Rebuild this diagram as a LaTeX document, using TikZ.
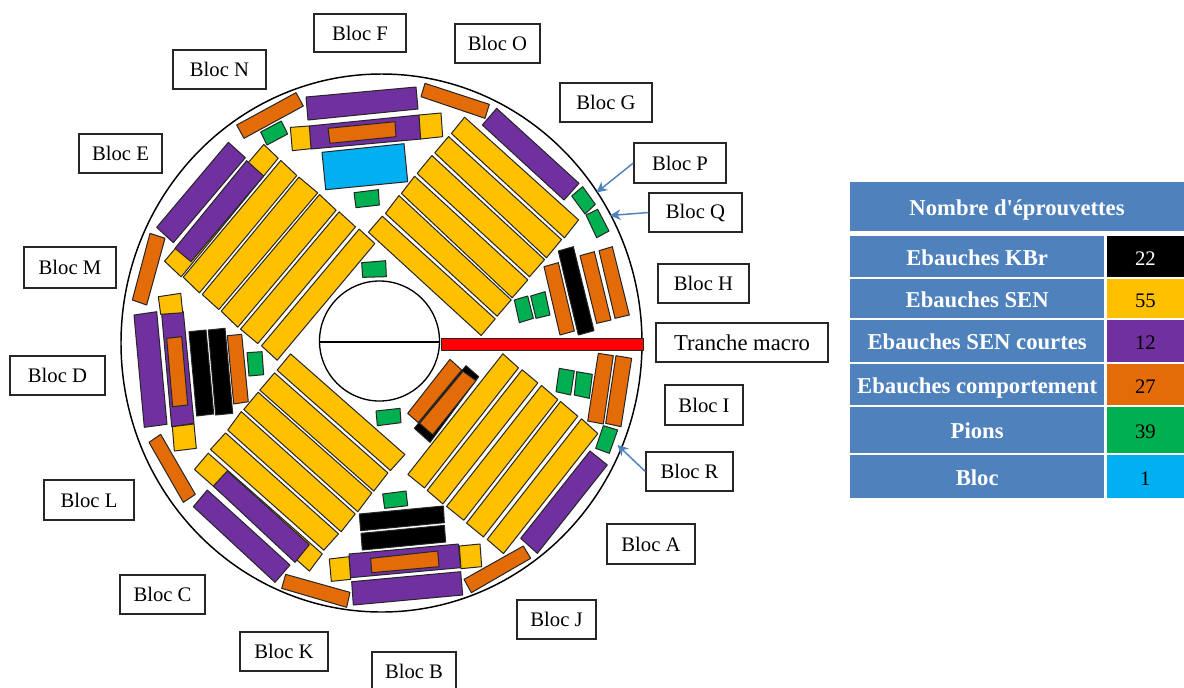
\documentclass[tikz,border=0pt]{standalone}
\usepackage{fontspec}
\setmainfont{Liberation Serif}
\usetikzlibrary{arrows.meta,calc}
\definecolor{cyel}{HTML}{FFC000}
\definecolor{cpur}{HTML}{7030A0}
\definecolor{cora}{HTML}{E36C09}
\definecolor{cgre}{HTML}{00B050}
\definecolor{cblu}{HTML}{00B0F0}
\definecolor{chead}{HTML}{4F81BD}
\tikzset{
 piece/.style={draw=black!85,line width=0.75pt,line join=round},
 yel/.style={piece,fill=cyel},
 pur/.style={piece,fill=cpur},
 ora/.style={piece,fill=cora},
 gre/.style={piece,fill=cgre},
 blk/.style={piece,fill=black},
 blu/.style={piece,fill=cblu},
 zo/.style 2 args={shift={(#1,#2)},x=0.25pt,y=-0.25pt},
 labbox/.style={draw=black!85,fill=white,line width=1pt,inner sep=0pt,font=\fontsize{15.5}{18}\selectfont},
 leader/.style={draw=chead,line width=1.1pt,-{Stealth[length=8pt,width=8pt]}},
 hcell/.style={fill=chead,text=white,inner sep=0pt,text height=13pt,text depth=0pt,font=\fontsize{17}{20}\selectfont\bfseries},
 vcell/.style={inner sep=0pt,text height=13pt,text depth=0pt,font=\fontsize{15.5}{18}\selectfont}
}
\newcommand{\lab}[6]{\node[labbox,minimum width={(#4-#2)*0.75pt},minimum height={(#5-#3)*0.75pt}] (#1) at ({(#2+#4)/2},{(#3+#5)/2}) {#6};}
\newcommand{\cell}[7]{\node[#6,minimum width={(#4-#2)*0.75pt},minimum height={(#5-#3)*0.75pt}] (#1) at ({(#2+#4)/2},{(#3+#5)/2}) {#7};}
% a yellow strip: corners A B (short end), C D; narrowed across its width
\newcommand{\st}[4]{\draw[yel] ($#1!.03!#2$)--($#2!.03!#1$)--($#3!.03!#4$)--($#4!.03!#3$)--cycle;}
\begin{document}
\begin{tikzpicture}[x=0.75pt,y=-0.75pt]
\useasboundingbox (0,0) rectangle (1184,687);
% body
\draw[line width=1.1pt,fill=white] (381.5,343) ellipse [x radius=260.5,y radius=269];
\draw[line width=1pt] (379.5,341) circle [radius=60];
\coordinate (hl) at (319.5,342);
\coordinate (hr) at (440,342);
\draw[line width=1pt] (hl) -- (hr);
\draw[piece,fill=red] (441,338) rectangle (643,350);

% ---------- NW
\begin{scope}[zo={120}{70}]
\draw[ora] (528,68)--(550,108)--(372,205)--(350,165)--cycle;
\draw[gre] (484,153)--(503,192)--(441,225)--(422,186)--cycle;
\st{(430,222)}{(476,266)}{(185,622)}{(132,572)}
\draw[pur] (380,272)--(431,318)--(213,575)--(165,535)--cycle;
\draw[pur] (325,217)--(376,263)--(160,518)--(110,472)--cycle;
\st{(481,270)}{(532,318)}{(240,670)}{(188,620)}
\st{(535,320)}{(595,370)}{(298,720)}{(245,672)}
\st{(597,372)}{(650,422)}{(355,773)}{(302,722)}
\st{(656,424)}{(708,472)}{(415,822)}{(360,776)}
\st{(716,476)}{(766,522)}{(473,872)}{(423,826)}
\draw[ora] (90,490)--(135,505)--(80,705)--(37,690)--cycle;
\draw[gre] (725,578)--(797,572)--(799,620)--(728,622)--cycle;
\draw[gre] (702,368)--(775,359)--(778,405)--(708,413)--cycle;
\end{scope}

% ---------- N group (px)
\draw[pur] (306,97)--(416,87)--(418,109)--(308,120)--cycle;
\draw[pur] (309,126)--(419,115)--(421,139)--(311,149)--cycle;
\begin{scope}[zo={120}{70}]
\draw[yel] (511,172)--(568,168)--(573,236)--(517,242)--cycle;
\end{scope}
\begin{scope}[zo={380}{70}]
\draw[yel] (117,135)--(183,129)--(188,200)--(122,207)--cycle;
\end{scope}
\draw[ora] (328,128.3)--(395,121.7)--(396,136.7)--(330,143.3)--cycle;
\draw[blu] (322,152.3)--(404,143.7)--(407.7,181.7)--(325.7,189.7)--cycle;

% ---------- NE
\begin{scope}[zo={380}{70}]
\st{(213,192)}{(255,140)}{(597,448)}{(552,505)}
\st{(163,250)}{(207,198)}{(546,507)}{(498,565)}
\st{(110,312)}{(157,255)}{(495,567)}{(447,622)}
\st{(63,372)}{(105,317)}{(445,628)}{(395,685)}
\st{(15,432)}{(58,375)}{(395,688)}{(350,740)}
\st{(-36,488)}{(8,437)}{(347,745)}{(302,798)}
\draw[pur] (350,115)--(597,340)--(552,390)--(307,165)--cycle;
\draw[ora] (135,40)--(328,103)--(315,145)--(123,80)--cycle;
\draw[gre] (608,350)--(646,403)--(615,432)--(575,378)--cycle;
\draw[gre] (653,418)--(687,483)--(650,503)--(618,435)--cycle;
\draw[blk] (580,530)--(642,782)--(595,795)--(535,543)--cycle;
\draw[ora] (535,578)--(583,783)--(540,795)--(492,590)--cycle;
\draw[ora] (643,545)--(693,750)--(650,760)--(600,557)--cycle;
\draw[ora] (697,530)--(748,735)--(705,745)--(657,542)--cycle;
\draw[gre] (443,678)--(460,745)--(418,758)--(403,690)--cycle;
\draw[gre] (495,665)--(510,735)--(468,745)--(452,678)--cycle;
\end{scope}

% ---------- W group (px)
\draw[pur] (134,315)--(156.7,311.7)--(167,424.3)--(144.3,427.3)--cycle;
\draw[pur] (161.7,314.3)--(183.3,311.7)--(194,423.3)--(171.7,426.7)--cycle;
\draw[yel] (158.3,296.7)--(180.7,293.3)--(182.7,312.7)--(160.7,314.3)--cycle;
\draw[ora] (166.7,338.3)--(181.7,336.7)--(187.7,405)--(172.7,406.7)--cycle;
\draw[blk] (189,331.7)--(206,330)--(213.7,414)--(196.7,416)--cycle;
\draw[blk] (208.3,330)--(225,328.3)--(232.7,413.3)--(215.7,415)--cycle;
\draw[ora] (227.3,335.7)--(241.7,334.3)--(248.3,401.7)--(233.7,404)--cycle;

% ---------- SW and S
\begin{scope}[zo={120}{340}]
\draw[yel] (157,260)--(222,252)--(229,325)--(163,333)--cycle;
\draw[gre] (381,38)--(426,35)--(431,104)--(387,108)--cycle;
\st{(222,390)}{(266,338)}{(608,640)}{(567,695)}
\draw[pur] (322,393)--(568,614)--(525,667)--(280,438)--cycle;
\draw[pur] (262,450)--(510,675)--(465,727)--(220,500)--cycle;
\st{(470,92)}{(513,40)}{(856,342)}{(810,393)}
\st{(418,152)}{(465,97)}{(805,397)}{(760,455)}
\st{(370,210)}{(416,155)}{(757,457)}{(712,517)}
\st{(322,272)}{(365,213)}{(707,520)}{(662,577)}
\st{(270,330)}{(318,277)}{(657,580)}{(610,632)}
\draw[ora] (122,283)--(226,463)--(190,487)--(87,307)--cycle;
\draw[ora] (497,703)--(690,757)--(680,802)--(485,745)--cycle;
\draw[blk] (718,522)--(970,498)--(973,548)--(722,572)--cycle;
\draw[blk] (723,580)--(973,556)--(977,606)--(727,630)--cycle;
\draw[pur] (695,725)--(1022,695)--(1028,765)--(700,795)--cycle;
\draw[pur] (687,642)--(1015,612)--(1022,683)--(692,713)--cycle;
\draw[yel] (628,657)--(687,650)--(692,718)--(634,724)--cycle;
\draw[yel] (1018,618)--(1080,612)--(1085,680)--(1023,686)--cycle;
\draw[ora] (752,655)--(953,633)--(957,680)--(755,698)--cycle;
\end{scope}

% ---------- SE
\begin{scope}[zo={380}{340}]
\draw[gre] (8,462)--(78,453)--(83,497)--(14,505)--cycle;
\draw[gre] (-12,213)--(60,205)--(63,248)--(-8,257)--cycle;
\draw[blk] (258,77)--(296,110)--(150,307)--(103,265)--cycle;
\draw[ora] (210,58)--(245,90)--(115,248)--(83,220)--cycle;
\draw[ora] (249,94)--(288,122)--(158,284)--(119,250)--cycle;
\st{(367,40)}{(417,85)}{(135,445)}{(82,402)}
\st{(425,88)}{(475,130)}{(190,493)}{(140,450)}
\st{(483,135)}{(535,180)}{(253,542)}{(198,498)}
\st{(540,183)}{(595,230)}{(312,592)}{(258,548)}
\st{(603,235)}{(655,282)}{(372,642)}{(320,597)}
\draw[pur] (630,333)--(682,375)--(472,640)--(422,595)--cycle;
\draw[ora] (430,618)--(452,655)--(274,758)--(252,718)--cycle;
\draw[gre] (670,257)--(713,270)--(688,340)--(647,325)--cycle;
\draw[gre] (538,85)--(583,93)--(572,165)--(528,155)--cycle;
\draw[gre] (590,95)--(637,103)--(628,175)--(583,165)--cycle;
\draw[ora] (655,40)--(700,47)--(670,252)--(623,243)--cycle;
\draw[ora] (708,47)--(755,55)--(723,260)--(677,250)--cycle;
\end{scope}

% ---------- labels
\lab{bF}{314}{14}{406}{52}{Bloc F}
\lab{bO}{455}{24}{540}{63}{Bloc O}
\lab{bN}{173}{50}{266}{89}{Bloc N}
\lab{bG}{560}{83}{652}{122}{Bloc G}
\lab{bE}{79}{134}{162}{173}{Bloc E}
\lab{bP}{634}{143}{726}{183}{Bloc P}
\lab{bQ}{649}{193}{742}{232}{Bloc Q}
\lab{bH}{658}{264}{749}{303}{Bloc H}
\node[labbox,font=\fontsize{17}{20}\selectfont,minimum width={172*0.75pt},minimum height={39*0.75pt}] (bT) at (742,342.5) {Tranche macro};
\lab{bM}{24}{247}{116}{288}{Bloc M}
\lab{bD}{10}{356}{105}{395}{Bloc D}
\lab{bI}{665}{385}{743}{425}{Bloc I}
\lab{bR}{646}{452}{733}{491}{Bloc R}
\lab{bL}{44}{480}{134}{520}{Bloc L}
\lab{bA}{607}{524}{695}{564}{Bloc A}
\lab{bC}{120}{575}{205}{614}{Bloc C}
\lab{bJ}{517}{600}{596}{639}{Bloc J}
\lab{bK}{240}{632}{328}{671}{Bloc K}
\lab{bB}{372}{652}{456}{690}{Bloc B}

\coordinate (tipP) at (596.5,192.5);
\coordinate (tipQ) at (610,215.5);
\coordinate (tipR) at (617.5,445);
\draw[leader] (bP.west) -- (tipP);
\draw[leader] (bQ.west) -- (tipQ);
\draw[leader] (bR.west) -- (tipR);

% ---------- table
\cell{tH}{850}{182.3}{1184}{230.7}{hcell}{Nombre d\textquotesingle éprouvettes}
\cell{l1}{850}{236}{1104.3}{277.3}{hcell}{Ebauches KBr}
\cell{l2}{850}{279.3}{1104.3}{318}{hcell}{Ebauches SEN}
\cell{l3}{850}{320}{1104.3}{362}{hcell}{Ebauches SEN courtes}
\cell{l4}{850}{364}{1104.3}{405.3}{hcell}{Ebauches comportement}
\cell{l5}{850}{407.3}{1104.3}{453.3}{hcell}{Pions}
\cell{l6}{850}{455.3}{1104.3}{498.3}{hcell}{Bloc}
\cell{v1}{1106.7}{236}{1184}{277.3}{vcell,fill=black,text=white}{22}
\cell{v2}{1106.7}{279.3}{1184}{318}{vcell,fill=cyel}{55}
\cell{v3}{1106.7}{320}{1184}{362}{vcell,fill=cpur}{12}
\cell{v4}{1106.7}{364}{1184}{405.3}{vcell,fill=cora}{27}
\cell{v5}{1106.7}{407.3}{1184}{453.3}{vcell,fill=cgre}{39}
\cell{v6}{1106.7}{455.3}{1184}{498.3}{vcell,fill=cblu}{1}
\end{tikzpicture}
\end{document}
